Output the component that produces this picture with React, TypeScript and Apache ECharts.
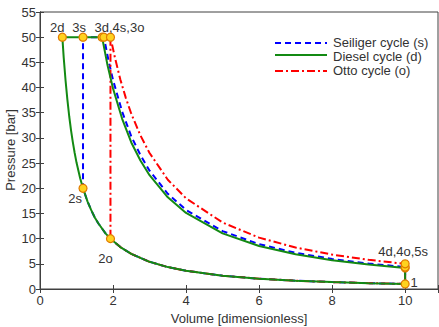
import React, { useEffect, useRef } from "react";
import * as echarts from "echarts";

// Shared compression curve 1 -> 2 (volume, pressure)
const compression: [number, number][] = [
  [10, 1], [9, 1.16], [8, 1.37], [7, 1.65], [6, 2.04], [5, 2.64], [4, 3.61],
  [3.5, 4.35], [3, 5.4], [2.5, 6.96], [2.2, 8.33], [1.93, 10], [1.8, 11.0],
  [1.6, 13.0], [1.5, 14.2], [1.4, 15.7], [1.3, 17.4], [1.178, 20], [1.1, 22.0],
  [1.0, 25.1], [0.95, 27.0], [0.9, 29.1], [0.85, 31.5], [0.8, 34.3],
  [0.75, 37.6], [0.7, 41.4], [0.65, 45.9], [0.612, 50],
];

const dieselExpansion: [number, number][] = [
  [1.7, 50], [1.85, 44.4], [2, 39.8], [2.25, 33.8], [2.5, 29.1], [2.75, 25.5],
  [3, 22.6], [3.5, 18.2], [4, 15.1], [5, 11.05], [6, 8.55], [7, 6.9],
  [8, 5.72], [9, 4.85], [10, 4.19],
];
const seiligerExpansion: [number, number][] = [
  [1.75, 50], [1.875, 45.4], [2, 41.5], [2.25, 35.2], [2.5, 30.3], [2.75, 26.6],
  [3, 23.5], [3.5, 18.9], [4, 15.7], [5, 11.5], [6, 8.91], [7, 7.18],
  [8, 5.96], [9, 5.05], [10, 4.36],
];
const ottoExpansion: [number, number][] = [
  [1.93, 50], [2.05, 46.0], [2.2, 41.6], [2.35, 37.95], [2.5, 34.8], [2.75, 30.5],
  [3, 27.0], [3.5, 21.7], [4, 18.0], [5, 13.2], [6, 10.2], [7, 8.23],
  [8, 6.83], [9, 5.79], [10, 5.0],
];

// State points
const pointNames = ["1", "2s", "2o", "2d", "3s", "3d", "4s", "3o", "4d", "5s", "4o"];
const pointV = [10, 1.178, 1.93, 0.612, 1.178, 1.7, 1.75, 1.93, 10, 10, 10];
const pointP = [1, 20, 10, 50, 50, 50, 50, 50, 4.19, 4.36, 5];
const pointLabels = ["1", "2s", "2o", "2d", "3s", "", "", "3d,4s,3o", "", "", "4d,4o,5s"];

const legendNames = ["Seiliger cycle (s)", "Diesel cycle (d)", "Otto cycle (o)"];
const xAxisTitle = "Volume [dimensionless]";
const yAxisTitle = "Pressure [bar]";

const xTicks = [0, 2, 4, 6, 8, 10];

// label offsets (style only)
const labelOffsets: Record<string, [number, number]> = {
  "1": [9, -1],
  "2s": [-8, 10],
  "2o": [-5, 20],
  "2d": [-5, -10],
  "3s": [-4, -10],
  "3o": [9, -10],
  "4o": [-2, -12],
};

const FONT = "'Liberation Sans', Arial, Helvetica, sans-serif";
const TEXT = "#333";
const FS = 13;

export default function App() {
  const ref = useRef<HTMLDivElement>(null);
  useEffect(() => {
    if (!ref.current) return;
    const chart = echarts.init(ref.current, undefined, { renderer: "svg" });

    const seiligerPath: [number, number][] = [
      ...compression.filter((p) => p[0] >= pointV[1] - 1e-9),
      [pointV[4], pointP[4]],
      ...seiligerExpansion,
      [pointV[0], pointP[0]],
    ];
    const ottoPath: [number, number][] = [
      ...compression.filter((p) => p[0] >= pointV[2] - 1e-9),
      ...ottoExpansion,
      [pointV[0], pointP[0]],
    ];
    const dieselPath: [number, number][] = [
      ...compression,
      ...dieselExpansion,
      [pointV[0], pointP[0]],
    ];

    const scatterData = pointNames.map((n, i) => {
      const lbl = pointLabels[i];
      const off = labelOffsets[n];
      return {
        name: n,
        value: [pointV[i], pointP[i]],
        label: lbl
          ? {
              show: true,
              formatter: lbl,
              position: "inside",
              offset: off || [0, 0],
            }
          : { show: false },
      };
    });

    const axisLineStyle = { color: "#404040", width: 1 };
    const legendY = [43, 55, 71];
    const legendTextY = [42, 56, 70];
    const legendStyles = [
      { stroke: "#0000ff", lineDash: [6, 4] },
      { stroke: "#138a13", lineDash: null as any },
      { stroke: "#ff0000", lineDash: [8, 3, 2, 3] },
    ];

    const graphic: any[] = [];
    legendNames.forEach((name, i) => {
      graphic.push({
        type: "line",
        shape: { x1: 275, y1: legendY[i], x2: 327, y2: legendY[i] },
        style: {
          stroke: legendStyles[i].stroke,
          lineWidth: 2,
          lineDash: legendStyles[i].lineDash || undefined,
        },
        z: 100,
      });
      graphic.push({
        type: "text",
        x: 333,
        y: legendTextY[i],
        style: {
          text: name,
          fill: TEXT,
          font: `${FS}px ${FONT}`,
          verticalAlign: "middle",
          textAlign: "left",
        },
        z: 100,
      });
    });
    graphic.push({
      type: "text",
      x: 10,
      y: 150,
      rotation: Math.PI / 2,
      style: {
        text: yAxisTitle,
        fill: TEXT,
        font: `${FS}px ${FONT}`,
        verticalAlign: "middle",
        textAlign: "center",
      },
      z: 100,
    });

    chart.setOption({
      animation: false,
      backgroundColor: "#ffffff",
      textStyle: { fontFamily: FONT },
      grid: {
        left: 40,
        top: 12,
        right: 1,
        bottom: 38,
        containLabel: false,
        outerBoundsMode: "none",
        show: true,
        borderColor: "#404040",
        borderWidth: 1,
        backgroundColor: "transparent",
      },
      xAxis: [
        {
          type: "value",
          min: 0,
          max: 10.9,
          interval: 2,
          name: xAxisTitle,
          nameLocation: "middle",
          nameGap: 22,
          nameTextStyle: { color: TEXT, fontSize: FS, fontFamily: FONT },
          axisLine: { show: true, lineStyle: axisLineStyle },
          axisTick: { show: true, inside: true, length: 4, lineStyle: axisLineStyle },
          axisLabel: {
            color: TEXT,
            fontSize: FS,
            margin: 5,
            fontFamily: FONT,
            formatter: (v: number) => (xTicks.includes(v) ? String(v) : ""),
          },
          splitLine: { show: false },
        },
        {
          type: "value",
          position: "top",
          min: 0,
          max: 10.9,
          interval: 2,
          axisLine: { show: true, lineStyle: axisLineStyle },
          axisTick: { show: true, inside: true, length: 4, lineStyle: axisLineStyle },
          axisLabel: { show: false },
          splitLine: { show: false },
        },
      ],
      yAxis: [
        {
          type: "value",
          min: 0,
          max: 55,
          interval: 5,
          axisLine: { show: true, lineStyle: axisLineStyle },
          axisTick: { show: true, inside: true, length: 4, lineStyle: axisLineStyle },
          axisLabel: { color: TEXT, fontSize: FS, margin: 4, fontFamily: FONT },
          splitLine: { show: false },
        },
        {
          type: "value",
          position: "right",
          min: 0,
          max: 55,
          interval: 5,
          axisLine: { show: true, lineStyle: axisLineStyle },
          axisTick: { show: true, inside: true, length: 4, lineStyle: axisLineStyle },
          axisLabel: { show: false },
          splitLine: { show: false },
        },
      ],
      graphic,
      series: [
        {
          name: legendNames[0],
          type: "line",
          data: seiligerPath,
          showSymbol: false,
          symbol: "none",
          lineStyle: { color: "#0000ff", width: 2, type: [6, 4] },
          emphasis: { disabled: true },
          z: 2,
        },
        {
          name: legendNames[2],
          type: "line",
          data: ottoPath,
          showSymbol: false,
          symbol: "none",
          lineStyle: { color: "#ff0000", width: 2, type: [8, 3, 2, 3] },
          emphasis: { disabled: true },
          z: 3,
        },
        {
          name: legendNames[1],
          type: "line",
          data: dieselPath,
          showSymbol: false,
          symbol: "none",
          lineStyle: { color: "#138a13", width: 2 },
          emphasis: { disabled: true },
          z: 4,
        },
        {
          name: "points",
          type: "scatter",
          data: scatterData,
          symbol: "circle",
          symbolSize: 8,
          itemStyle: { color: "#ffd21f", borderColor: "#e07b00", borderWidth: 1.2, opacity: 1 },
          label: { color: TEXT, fontSize: FS, fontFamily: FONT },
          emphasis: { disabled: true },
          z: 10,
        },
      ],
    });
    return () => chart.dispose();
  }, []);

  return (
    <div
      ref={ref}
      style={{ position: "fixed", left: 0, top: 0, width: 439, height: 327, background: "#fff" }}
    />
  );
}
